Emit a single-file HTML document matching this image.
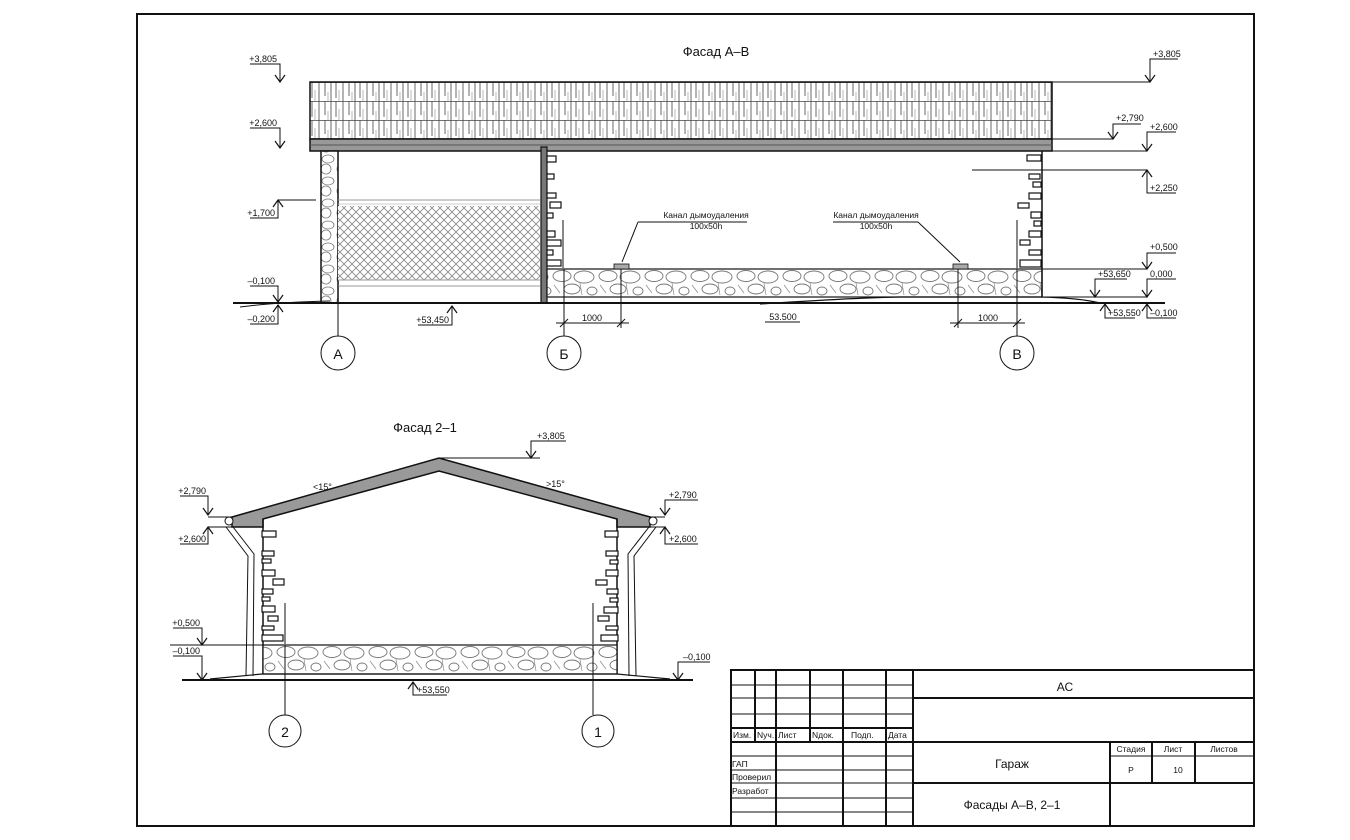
<!DOCTYPE html>
<html><head><meta charset="utf-8"><style>
html,body{margin:0;padding:0;background:#fff;}
svg{display:block;}
text{font-family:"Liberation Sans","DejaVu Sans",sans-serif;fill:#111;}
.s{font-size:9px;}
</style></head><body>
<svg width="1350" height="840" viewBox="0 0 1350 840" xmlns="http://www.w3.org/2000/svg">
<defs>
<pattern id="sh" width="24" height="19" patternUnits="userSpaceOnUse" y="82" x="310">
<rect width="24" height="19" fill="#fff"/>
<line x1="0" y1="0.5" x2="24" y2="0.5" stroke="#444" stroke-width="0.8"/>
<line x1="2" y1="0" x2="2" y2="16" stroke="#444" stroke-width="0.8"/>
<line x1="9" y1="0" x2="9" y2="19" stroke="#444" stroke-width="0.8"/>
<line x1="15" y1="0" x2="15" y2="14" stroke="#444" stroke-width="0.8"/>
<line x1="21" y1="0" x2="21" y2="19" stroke="#444" stroke-width="0.8"/>
<line x1="5" y1="8" x2="5" y2="19" stroke="#888" stroke-width="0.6"/>
<line x1="18" y1="10" x2="18" y2="19" stroke="#888" stroke-width="0.6"/>
</pattern>
<pattern id="st" width="46" height="28" patternUnits="userSpaceOnUse" y="269">
<rect width="46" height="28" fill="#fff"/>
<ellipse cx="10" cy="7" rx="9" ry="5.5" fill="none" stroke="#777" stroke-width="0.9"/>
<ellipse cx="32" cy="8" rx="10" ry="6" fill="none" stroke="#777" stroke-width="0.9"/>
<ellipse cx="20" cy="20" rx="8" ry="5" fill="none" stroke="#777" stroke-width="0.9"/>
<ellipse cx="40" cy="22" rx="5" ry="4" fill="none" stroke="#777" stroke-width="0.9"/>
<path d="M2,16 L8,24 M28,14 L30,26" stroke="#888" stroke-width="0.7"/>
</pattern>
<pattern id="sv" width="16" height="22" patternUnits="userSpaceOnUse">
<rect width="16" height="22" fill="#fff"/>
<ellipse cx="8" cy="5" rx="6" ry="4" fill="none" stroke="#777" stroke-width="0.8"/>
<ellipse cx="6" cy="15" rx="5" ry="5" fill="none" stroke="#777" stroke-width="0.8"/>
</pattern>
<pattern id="mesh" width="8" height="8" patternUnits="userSpaceOnUse">
<rect width="8" height="8" fill="#fff"/>
<path d="M0,0 L8,8 M8,0 L0,8" stroke="#888" stroke-width="0.8"/>
</pattern>
<g id="ad"><path d="M-5,-7 L0,0 L5,-7" fill="none" stroke="#111" stroke-width="1.2"/></g>
<g id="au"><path d="M-5,7 L0,0 L5,7" fill="none" stroke="#111" stroke-width="1.2"/></g>
</defs>

<rect x="137" y="14" width="1117" height="812" fill="none" stroke="#111" stroke-width="2"/>

<!-- ======== FACADE A-B ======== -->
<text x="716" y="56" text-anchor="middle" font-size="13">Фасад А–В</text>

<rect x="310" y="82" width="742" height="57" fill="url(#sh)" stroke="#111" stroke-width="1.5"/>
<rect x="310" y="139" width="742" height="12" fill="#999" stroke="#111" stroke-width="1.5"/>
<line x1="310" y1="145" x2="1052" y2="145" stroke="#555" stroke-width="1"/>
<line x1="1052" y1="82" x2="1150" y2="82" stroke="#111" stroke-width="1"/>
<line x1="1052" y1="139" x2="1113" y2="139" stroke="#111" stroke-width="1"/>
<line x1="1052" y1="151" x2="1147" y2="151" stroke="#111" stroke-width="1"/>
<line x1="972" y1="170" x2="1147" y2="170" stroke="#111" stroke-width="1"/>

<rect x="321" y="151" width="17" height="152" fill="url(#sv)" stroke="#111" stroke-width="1.5"/>
<line x1="338" y1="200" x2="540" y2="200" stroke="#999" stroke-width="1"/>
<line x1="338" y1="204" x2="540" y2="204" stroke="#bbb" stroke-width="0.8"/>
<rect x="338" y="206" width="202" height="74" fill="url(#mesh)"/>
<line x1="338" y1="280" x2="540" y2="280" stroke="#999" stroke-width="1"/>
<line x1="338" y1="286" x2="540" y2="286" stroke="#999" stroke-width="1"/>

<rect x="541" y="147" width="6" height="156" fill="#777" stroke="#111" stroke-width="1.2"/>
<g fill="#fff" stroke="#111" stroke-width="1.2">
<rect x="547" y="156" width="9" height="6"/><rect x="547" y="174" width="7" height="5"/><rect x="547" y="193" width="9" height="5"/>
<rect x="550" y="202" width="11" height="6"/><rect x="547" y="213" width="6" height="5"/><rect x="547" y="231" width="8" height="6"/>
<rect x="547" y="240" width="14" height="6"/><rect x="547" y="250" width="6" height="5"/><rect x="547" y="260" width="14" height="6"/>
</g>
<line x1="563" y1="220" x2="563" y2="268" stroke="#111"/>
<rect x="547" y="269" width="495" height="28" fill="url(#st)" stroke="#111" stroke-width="1.2"/>
<line x1="1042" y1="151" x2="1042" y2="297" stroke="#111" stroke-width="1.5"/>
<g fill="#fff" stroke="#111" stroke-width="1.2">
<rect x="1027" y="155" width="14" height="6"/><rect x="1029" y="174" width="11" height="5"/><rect x="1033" y="182" width="8" height="5"/>
<rect x="1029" y="193" width="12" height="6"/><rect x="1018" y="203" width="11" height="5"/><rect x="1031" y="212" width="10" height="6"/>
<rect x="1034" y="221" width="7" height="5"/><rect x="1029" y="231" width="12" height="6"/><rect x="1020" y="240" width="10" height="5"/>
<rect x="1029" y="250" width="12" height="5"/><rect x="1020" y="260" width="21" height="7"/>
</g>
<line x1="1017" y1="220" x2="1017" y2="268" stroke="#111"/>
<line x1="1042" y1="269" x2="1147" y2="269" stroke="#111"/>
<line x1="1042" y1="297" x2="1147" y2="297" stroke="#111"/>

<line x1="233" y1="303" x2="1165" y2="303" stroke="#111" stroke-width="2"/>
<path d="M240,307 Q280,302 330,301" fill="none" stroke="#111"/>
<path d="M760,304 Q850,298 900,297 L1040,297 Q1080,298 1100,303" fill="none" stroke="#111" stroke-width="1.2"/>

<rect x="614" y="264" width="15" height="5" fill="#aaa" stroke="#111" stroke-width="0.8"/>
<rect x="953" y="264" width="15" height="5" fill="#aaa" stroke="#111" stroke-width="0.8"/>
<line x1="638" y1="222" x2="747" y2="222" stroke="#111"/>
<line x1="638" y1="222" x2="622" y2="262" stroke="#111"/>
<text x="706" y="218" text-anchor="middle" font-size="8.5">Канал дымоудаления</text>
<text x="706" y="229" text-anchor="middle" font-size="8.5">100х50h</text>
<line x1="833" y1="222" x2="918" y2="222" stroke="#111"/>
<line x1="918" y1="222" x2="960" y2="262" stroke="#111"/>
<text x="876" y="218" text-anchor="middle" font-size="8.5">Канал дымоудаления</text>
<text x="876" y="229" text-anchor="middle" font-size="8.5">100х50h</text>

<g stroke="#111" fill="#fff" stroke-width="1">
<line x1="338" y1="286" x2="338" y2="336"/><circle cx="338" cy="353" r="17"/>
<line x1="564" y1="269" x2="564" y2="336"/><circle cx="564" cy="353" r="17"/>
<line x1="1017" y1="269" x2="1017" y2="336"/><circle cx="1017" cy="353" r="17"/>
<line x1="621" y1="269" x2="621" y2="328"/><line x1="958" y1="269" x2="958" y2="328"/>
<line x1="556" y1="323" x2="629" y2="323"/><line x1="950" y1="323" x2="1025" y2="323"/>
<line x1="560" y1="327" x2="568" y2="319"/><line x1="617" y1="327" x2="625" y2="319"/>
<line x1="954" y1="327" x2="962" y2="319"/><line x1="1013" y1="327" x2="1021" y2="319"/>
</g>
<text x="338" y="359" text-anchor="middle" font-size="14">А</text>
<text x="564" y="359" text-anchor="middle" font-size="14">Б</text>
<text x="1017" y="359" text-anchor="middle" font-size="14">В</text>
<text x="592" y="321" class="s" text-anchor="middle">1000</text>
<text x="988" y="321" class="s" text-anchor="middle">1000</text>
<text x="783" y="320" class="s" text-anchor="middle">53.500</text>
<line x1="765" y1="322" x2="800" y2="322" stroke="#111"/>

<g stroke="#111" stroke-width="1" fill="none">
<path d="M250,64 H280 V82"/><path d="M250,128 H280 V148"/>
<path d="M250,218 H278 V200 M278,200 H316"/>
<path d="M250,286 H278 V302"/><path d="M250,324 H278 V305"/>
<path d="M418,325 H452 V306"/>
</g>
<use href="#ad" x="280" y="82"/><use href="#ad" x="280" y="148"/><use href="#au" x="278" y="200"/>
<use href="#ad" x="278" y="302"/><use href="#au" x="278" y="305"/><use href="#au" x="452" y="306"/>
<text x="277" y="62" class="s" text-anchor="end">+3,805</text>
<text x="277" y="126" class="s" text-anchor="end">+2,600</text>
<text x="275" y="216" class="s" text-anchor="end">+1,700</text>
<text x="275" y="284" class="s" text-anchor="end">–0,100</text>
<text x="275" y="322" class="s" text-anchor="end">–0,200</text>
<text x="449" y="323" class="s" text-anchor="end">+53,450</text>

<g stroke="#111" stroke-width="1" fill="none">
<path d="M1178,59 H1150 V82"/><path d="M1141,124 H1113 V139"/><path d="M1176,132 H1147 V151"/>
<path d="M1176,193 H1147 V170"/><path d="M1176,253 H1147 V269"/><path d="M1176,279 H1147 V297"/>
<path d="M1127,279 H1095 V297"/><path d="M1135,318 H1105 V304"/><path d="M1176,318 H1147 V304"/>
</g>
<use href="#ad" x="1150" y="82"/><use href="#ad" x="1113" y="139"/><use href="#ad" x="1147" y="151"/>
<use href="#au" x="1147" y="170"/><use href="#ad" x="1147" y="269"/><use href="#ad" x="1147" y="297"/>
<use href="#ad" x="1095" y="297"/><use href="#au" x="1105" y="304"/><use href="#au" x="1147" y="304"/>
<text x="1153" y="57" class="s">+3,805</text>
<text x="1116" y="121" class="s">+2,790</text>
<text x="1150" y="130" class="s">+2,600</text>
<text x="1150" y="191" class="s">+2,250</text>
<text x="1150" y="250" class="s">+0,500</text>
<text x="1150" y="277" class="s">0,000</text>
<text x="1098" y="277" class="s">+53,650</text>
<text x="1108" y="316" class="s">+53,550</text>
<text x="1150" y="316" class="s">–0,100</text>

<!-- ======== FACADE 2-1 ======== -->
<text x="425" y="432" text-anchor="middle" font-size="13">Фасад 2–1</text>
<path d="M232,517 L439,458 L650,517 L650,527 L617,527 L617,519 L439,471 L263,519 L263,527 L232,527 Z" fill="#999" stroke="#111" stroke-width="1.5"/>
<line x1="439" y1="458" x2="540" y2="458" stroke="#111"/>
<circle cx="229" cy="521" r="4" fill="#fff" stroke="#111"/>
<circle cx="653" cy="521" r="4" fill="#fff" stroke="#111"/>
<g fill="none" stroke="#111" stroke-width="1">
<path d="M226,527 L248,556 L246,676"/><path d="M233,527 L254,554 L253,676"/>
<path d="M656,527 L634,556 L636,676"/><path d="M649,527 L628,554 L629,676"/>
</g>
<line x1="263" y1="519" x2="263" y2="674" stroke="#111" stroke-width="1.5"/>
<line x1="617" y1="519" x2="617" y2="674" stroke="#111" stroke-width="1.5"/>
<g fill="#fff" stroke="#111" stroke-width="1.2">
<rect x="262" y="531" width="14" height="6"/><rect x="262" y="551" width="12" height="5"/><rect x="262" y="559" width="9" height="4"/>
<rect x="262" y="570" width="13" height="6"/><rect x="273" y="579" width="11" height="6"/><rect x="262" y="589" width="11" height="5"/>
<rect x="262" y="597" width="8" height="4"/><rect x="262" y="606" width="13" height="6"/><rect x="268" y="616" width="10" height="5"/>
<rect x="262" y="626" width="12" height="4"/><rect x="262" y="635" width="21" height="6"/>
<rect x="605" y="531" width="13" height="6"/><rect x="606" y="551" width="12" height="5"/><rect x="610" y="560" width="8" height="4"/>
<rect x="606" y="570" width="12" height="6"/><rect x="596" y="580" width="11" height="5"/><rect x="607" y="589" width="11" height="5"/>
<rect x="610" y="598" width="8" height="4"/><rect x="604" y="607" width="14" height="6"/><rect x="598" y="616" width="11" height="5"/>
<rect x="606" y="626" width="12" height="4"/><rect x="601" y="635" width="17" height="6"/>
</g>
<line x1="285" y1="603" x2="285" y2="644" stroke="#111"/>
<line x1="593" y1="603" x2="593" y2="644" stroke="#111"/>
<pattern id="st2" width="46" height="29" patternUnits="userSpaceOnUse" y="645">
<rect width="46" height="29" fill="#fff"/>
<ellipse cx="10" cy="7" rx="9" ry="5.5" fill="none" stroke="#777" stroke-width="0.9"/>
<ellipse cx="32" cy="8" rx="10" ry="6" fill="none" stroke="#777" stroke-width="0.9"/>
<ellipse cx="20" cy="20" rx="8" ry="5" fill="none" stroke="#777" stroke-width="0.9"/>
<ellipse cx="40" cy="22" rx="5" ry="4" fill="none" stroke="#777" stroke-width="0.9"/>
<path d="M2,16 L8,24 M28,14 L30,26" stroke="#888" stroke-width="0.7"/>
</pattern>
<rect x="263" y="645" width="354" height="29" fill="url(#st2)" stroke="#111" stroke-width="1.2"/>
<line x1="170" y1="645" x2="263" y2="645" stroke="#111"/>
<line x1="182" y1="680" x2="693" y2="680" stroke="#111" stroke-width="2"/>
<path d="M210,679 L262,674 L617,674 L670,679" fill="none" stroke="#111" stroke-width="1.2"/>
<g stroke="#111" fill="#fff">
<line x1="285" y1="645" x2="285" y2="715"/><circle cx="285" cy="731" r="16"/>
<line x1="593" y1="645" x2="593" y2="715"/><circle cx="598" cy="731" r="16"/>
</g>
<text x="285" y="737" text-anchor="middle" font-size="14">2</text>
<text x="598" y="737" text-anchor="middle" font-size="14">1</text>
<text x="313" y="490" font-size="9">&lt;15°</text>
<text x="546" y="487" font-size="9">&gt;15°</text>

<g stroke="#111" stroke-width="1" fill="none">
<path d="M566,441 H531 V458"/>
<path d="M180,496 H208 V515 M208,517 H232"/><path d="M180,544 H208 V527 M208,527 H232"/>
<path d="M173,628 H202 V645"/><path d="M173,656 H202 V680"/>
<path d="M698,500 H665 V515 M650,517 H665"/><path d="M698,544 H665 V527 M650,527 H665"/>
<path d="M710,662 H678 V680"/>
<path d="M447,695 H413 V682"/>
</g>
<use href="#ad" x="531" y="458"/><use href="#ad" x="208" y="515"/><use href="#au" x="208" y="527"/>
<use href="#ad" x="202" y="645"/><use href="#ad" x="202" y="680"/><use href="#ad" x="665" y="515"/>
<use href="#au" x="665" y="527"/><use href="#ad" x="678" y="680"/><use href="#au" x="413" y="682"/>
<text x="537" y="439" class="s">+3,805</text>
<text x="206" y="494" class="s" text-anchor="end">+2,790</text>
<text x="206" y="542" class="s" text-anchor="end">+2,600</text>
<text x="200" y="626" class="s" text-anchor="end">+0,500</text>
<text x="200" y="654" class="s" text-anchor="end">–0,100</text>
<text x="669" y="498" class="s">+2,790</text>
<text x="669" y="542" class="s">+2,600</text>
<text x="683" y="660" class="s">–0,100</text>
<text x="417" y="693" class="s">+53,550</text>

<!-- ======== TITLE BLOCK ======== -->
<g stroke="#111" fill="none">
<rect x="731" y="670" width="523" height="156" fill="#fff" stroke-width="2"/>
<g stroke-width="1">
<line x1="731" y1="685" x2="913" y2="685"/><line x1="731" y1="698" x2="913" y2="698"/>
<line x1="731" y1="714" x2="913" y2="714"/><line x1="731" y1="756" x2="913" y2="756"/>
<line x1="731" y1="770" x2="913" y2="770"/><line x1="731" y1="783" x2="913" y2="783"/>
<line x1="731" y1="798" x2="913" y2="798"/><line x1="731" y1="812" x2="913" y2="812"/>
<line x1="1110" y1="756" x2="1254" y2="756"/>
</g>
<g stroke-width="2">
<line x1="731" y1="728" x2="913" y2="728"/><line x1="731" y1="742" x2="1254" y2="742"/>
<line x1="913" y1="698" x2="1254" y2="698"/><line x1="913" y1="783" x2="1254" y2="783"/>
<line x1="755" y1="670" x2="755" y2="742"/><line x1="776" y1="670" x2="776" y2="826"/>
<line x1="810" y1="670" x2="810" y2="742"/><line x1="843" y1="670" x2="843" y2="826"/>
<line x1="886" y1="670" x2="886" y2="826"/><line x1="913" y1="670" x2="913" y2="826"/>
<line x1="1110" y1="742" x2="1110" y2="826"/><line x1="1152" y1="742" x2="1152" y2="783"/>
<line x1="1195" y1="742" x2="1195" y2="783"/>
</g>
</g>
<g font-size="8.5">
<text x="733" y="738">Изм.</text><text x="757" y="738">Nуч.</text><text x="778" y="738">Лист</text>
<text x="812" y="738">Nдок.</text><text x="851" y="738">Подп.</text><text x="888" y="738">Дата</text>
<text x="732" y="767">ГАП</text><text x="732" y="780">Проверил</text><text x="732" y="794">Разработ</text>
<text x="1131" y="752" text-anchor="middle">Стадия</text><text x="1173" y="752" text-anchor="middle">Лист</text>
<text x="1224" y="752" text-anchor="middle">Листов</text>
<text x="1131" y="773" text-anchor="middle">Р</text><text x="1178" y="773" text-anchor="middle">10</text>
</g>
<text x="1065" y="691" text-anchor="middle" font-size="12">АС</text>
<text x="1012" y="768" text-anchor="middle" font-size="12">Гараж</text>
<text x="1012" y="809" text-anchor="middle" font-size="12">Фасады А–В, 2–1</text>
</svg>
</body></html>
